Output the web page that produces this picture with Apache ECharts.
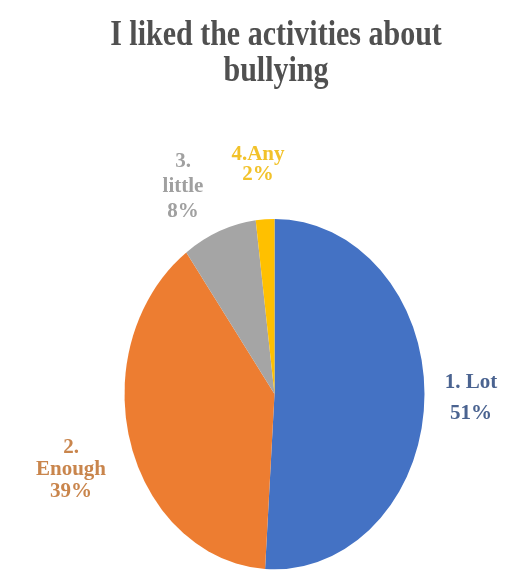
<!DOCTYPE html>
<html>
<head>
<meta charset="utf-8">
<script src="https://cdn.jsdelivr.net/npm/echarts@6/dist/echarts.min.js"></script>
<style>
  html, body { margin: 0; padding: 0; background: #ffffff; overflow: hidden; }
  #chart { width: 511px; height: 578px; }
</style>
</head>
<body>
<div id="chart"></div>
<script>
const titleText = 'I liked the activities about\nbullying';
const categories = ['1. Lot', '2.\nEnough', '3.\nlittle', '4.Any'];
const values = [51, 39, 8, 2];
const percentLabels = ['51%', '39%', '8%', '2%'];

const sliceColors = ['#4472C4', '#ED7D31', '#A5A5A5', '#FFC000'];
const labelColors = ['#4a6390', '#c9854c', '#a0a0a0', '#f2c22a'];
// label anchor points (page pixels)
const labelPos = [
  { x: 471, y: 398, lh: 31 },
  { x: 71, y: 470, lh: 22 },
  { x: 183, y: 187, lh: 25 },
  { x: 258, y: 165, lh: 20 }
];
const STRETCH_Y = 1.1677; // the reference is stretched vertically

const chart = echarts.init(document.getElementById('chart'), null, { renderer: 'canvas' });

const data = categories.map((c, i) => ({
  name: c,
  value: values[i],
  itemStyle: { color: sliceColors[i] },
  label: {
    color: labelColors[i],
    lineHeight: labelPos[i].lh,
    formatter: c + '\n' + percentLabels[i]
  }
}));

chart.setOption({
  backgroundColor: '#ffffff',
  animation: false,
  title: {
    text: titleText,
    left: 271,
    top: 13,
    textAlign: 'center',
    textStyle: {
      fontFamily: 'Liberation Serif, Times New Roman, serif',
      fontWeight: 'bold',
      fontSize: 30,
      lineHeight: 31,
      color: '#505050'
    }
  },
  series: [{
    type: 'pie',
    center: [274.5, 337.5],
    radius: 150,
    startAngle: 90,
    clockwise: true,
    data: data,
    label: {
      show: true,
      position: 'outside',
      overflow: 'none',
      fontFamily: 'Liberation Serif, Times New Roman, serif',
      fontWeight: 'bold',
      fontSize: 21,
      align: 'center'
    },
    labelLine: { show: false },
    labelLayout: function (params) {
      const p = labelPos[params.dataIndex];
      return { x: p.x, y: p.y, align: 'center', verticalAlign: 'middle', width: 120 };
    },
    emphasis: { disabled: true }
  }]
});

// stretch the drawing vertically to match the reference's aspect
try {
  const zr = chart.getZr();
  zr.storage.getRoots().forEach(function (r) {
    r.originX = 0;
    r.originY = 0;
    r.scaleY = STRETCH_Y;
    r.markRedraw && r.markRedraw();
  });
  zr.refreshImmediately();
} catch (e) { console.error(e); }
</script>
</body>
</html>
